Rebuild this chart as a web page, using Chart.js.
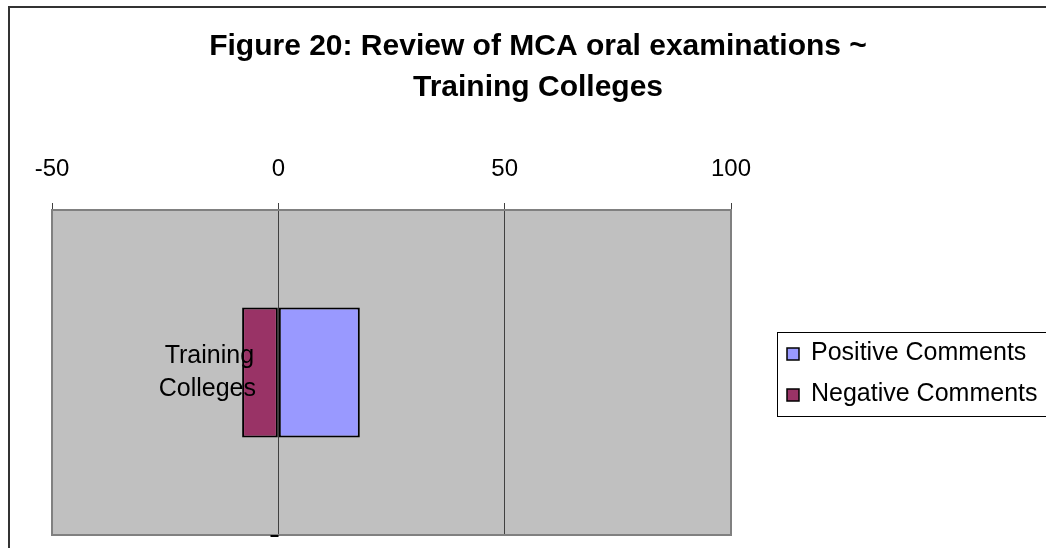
<!DOCTYPE html>
<html><head><meta charset="utf-8">
<script src="https://cdn.jsdelivr.net/npm/chart.js@4.4.1/dist/chart.umd.min.js"></script>
<style>html,body{margin:0;padding:0;background:#fff;overflow:hidden}canvas{display:block}</style>
</head><body>
<canvas id="c" width="1046" height="548"></canvas>
<script>
const TITLE_LINES = ['Figure 20: Review of MCA oral examinations ~', 'Training Colleges'];
const CATEGORIES = ['Training Colleges'];
const SERIES_NAMES = ['Positive Comments', 'Negative Comments'];
const POSITIVE = [18];
const NEGATIVE = [-8];
const X_TICKS = [-50, 0, 50, 100];
const SERIES_COLORS = ['#9999FF', '#993366'];
const FONT = "'Liberation Sans', Arial, Helvetica, sans-serif";

const decorPlugin = {
  id: 'decor',
  beforeDraw(chart) {
    const ctx = chart.ctx, a = chart.chartArea;
    ctx.save();
    ctx.fillStyle = '#fff';
    ctx.fillRect(0, 0, chart.width, chart.height);
    ctx.strokeStyle = '#333';
    ctx.lineWidth = 2;
    ctx.strokeRect(9, 7, 2000, 2000);
    ctx.fillStyle = '#C0C0C0';
    ctx.fillRect(a.left, a.top, a.right - a.left, a.bottom - a.top);
    ctx.restore();
  },
  beforeDatasetsDraw(chart) {
    const ctx = chart.ctx, a = chart.chartArea;
    ctx.save();
    ctx.strokeStyle = '#808080';
    ctx.lineWidth = 2;
    ctx.strokeRect(a.left, a.top, a.right - a.left, a.bottom - a.top);
    // small category-axis tick at the bottom, on the zero line
    const x0 = Math.round(chart.scales.x.getPixelForValue(0)) + 0.5;
    ctx.strokeStyle = '#000';
    ctx.lineWidth = 2;
    ctx.beginPath();
    ctx.moveTo(x0 - 8, a.bottom + 1);
    ctx.lineTo(x0, a.bottom + 1);
    ctx.stroke();
    ctx.restore();
  },
  afterDatasetsDraw(chart) {
    const ctx = chart.ctx;
    const xs = chart.scales.x, ys = chart.scales.y;
    ctx.save();
    ctx.fillStyle = '#000';
    ctx.font = '25px ' + FONT;
    ctx.textAlign = 'center';
    ctx.textBaseline = 'alphabetic';
    chart.data.labels.forEach((lab, i) => {
      const words = String(lab).split(' ');
      const cx = xs.getPixelForValue(0) - 70;
      const cy = ys.getPixelForValue(i);
      ctx.fillText(words[0], cx + 1, cy - 10);
      ctx.fillText(words.slice(1).join(' '), cx - 1, cy + 23.5);
    });
    ctx.restore();
  },
  afterDraw(chart) {
    const ctx = chart.ctx;
    ctx.save();
    // title
    ctx.fillStyle = '#000';
    ctx.font = 'bold 30px ' + FONT;
    ctx.textAlign = 'center';
    ctx.textBaseline = 'alphabetic';
    TITLE_LINES.forEach((t, i) => ctx.fillText(t, 538, 55 + i * 41));
    // legend
    ctx.strokeStyle = '#000';
    ctx.lineWidth = 1;
    ctx.strokeRect(777.5, 332.5, 300, 84);
    ctx.font = '25px ' + FONT;
    ctx.textAlign = 'left';
    chart.data.datasets.forEach((ds, i) => {
      const top = 348 + i * 41;
      ctx.fillStyle = ds.backgroundColor;
      ctx.fillRect(787, top, 12, 12);
      ctx.lineWidth = 1.5;
      ctx.strokeStyle = '#000';
      ctx.strokeRect(787, top, 12, 12);
      ctx.fillStyle = '#000';
      ctx.fillText(ds.label, 811, top + 12);
    });
    ctx.restore();
  }
};

new Chart(document.getElementById('c'), {
  type: 'bar',
  data: {
    labels: CATEGORIES,
    datasets: [
      { label: SERIES_NAMES[0], data: POSITIVE, backgroundColor: SERIES_COLORS[0], borderColor: '#000', borderWidth: 2, borderSkipped: false },
      { label: SERIES_NAMES[1], data: NEGATIVE, backgroundColor: SERIES_COLORS[1], borderColor: '#000', borderWidth: 2, borderSkipped: false }
    ]
  },
  options: {
    indexAxis: 'y',
    responsive: false,
    animation: false,
    devicePixelRatio: 1,
    layout: { padding: { left: 52, right: 315, top: 0, bottom: 13 } },
    datasets: { bar: { categoryPercentage: 1, barPercentage: 0.4 } },
    scales: {
      x: {
        position: 'top',
        stacked: true,
        min: -50, max: 100,
        afterBuildTicks: s => { s.ticks = X_TICKS.map(v => ({ value: v })); },
        afterFit: s => { s.height = 210; },
        ticks: { color: '#000', font: { family: FONT, size: 24 }, padding: 19, maxRotation: 0, autoSkip: false },
        grid: { color: '#404040', lineWidth: 1, tickLength: 7, drawTicks: true },
        border: { display: false }
      },
      y: { stacked: true, display: false }
    },
    plugins: { legend: { display: false }, tooltip: { enabled: false }, title: { display: false } }
  },
  plugins: [decorPlugin]
});
</script>
</body></html>
